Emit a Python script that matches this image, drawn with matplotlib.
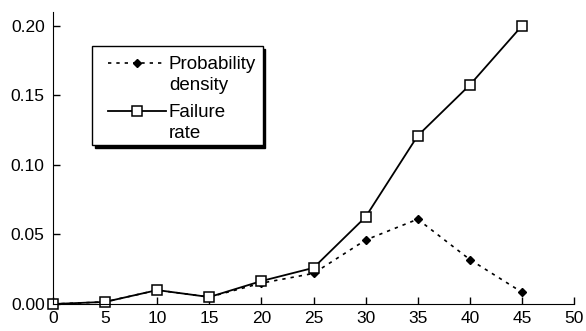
import matplotlib.pyplot as plt
import matplotlib.transforms as mtransforms
from matplotlib.legend_handler import HandlerLine2D

plt.rcParams["font.family"] = ["Liberation Sans", "DejaVu Sans"]

ages = [0, 5, 10, 15, 20, 25, 30, 35, 40, 45]
prob_density = [0.0, 0.0015, 0.010, 0.005, 0.015, 0.022, 0.046, 0.061, 0.032, 0.0085]
failure_rate = [0.0, 0.0015, 0.010, 0.005, 0.0165, 0.026, 0.0626, 0.121, 0.1575, 0.200]
x_ticks = [0, 5, 10, 15, 20, 25, 30, 35, 40, 45, 50]
y_ticks = [0.00, 0.05, 0.10, 0.15, 0.20]


class FirstLineHandler(HandlerLine2D):
    """Put the legend handle next to the first line of a two-line label."""

    def create_artists(self, legend, orig_handle, xdescent, ydescent,
                       width, height, fontsize, trans):
        shift = 0.95 * fontsize
        return super().create_artists(legend, orig_handle, xdescent, ydescent - shift,
                                      width, height, fontsize, trans)


fig = plt.figure(figsize=(5.86, 3.31), dpi=100)
ax = fig.add_axes([53 / 586, 27 / 331, 521 / 586, 292 / 331])

pd_line, = ax.plot(ages, prob_density, linestyle=(0, (2, 3)), color="black", linewidth=1.2,
                   marker="D", markersize=3.8, markerfacecolor="black", clip_on=False,
                   label="Probability\ndensity")
fr_line, = ax.plot(ages, failure_rate, linestyle="-", color="black", linewidth=1.3,
                   marker="s", markersize=7.5, markerfacecolor="white", markeredgecolor="black",
                   markeredgewidth=1.1, clip_on=False, label="Failure\nrate")

ax.set_xlim(0, 50)
ax.set_ylim(0, 0.21)
ax.set_xticks(x_ticks)
ax.set_yticks(y_ticks)
ax.set_yticklabels([f"{v:.2f}" for v in y_ticks])
ax.spines["top"].set_visible(False)
ax.spines["right"].set_visible(False)
ax.tick_params(direction="in", length=5, labelsize=12.5, width=1)
ax.tick_params(axis="x", pad=5)
ax.tick_params(axis="y", pad=6)

handler = FirstLineHandler(xpad=0.5)
leg = ax.legend(loc="upper left", bbox_to_anchor=(39 / 521, 1 - 34 / 292),
                frameon=True, fancybox=False, shadow={"color": "black", "alpha": 1},
                edgecolor="black", fontsize=13.5, handlelength=3.6, borderpad=0.35,
                labelspacing=0.55, handletextpad=0.15, borderaxespad=0,
                handler_map={pd_line: handler, fr_line: handler})
leg.get_frame().set_linewidth(1)
# nudge the label text a little lower inside the box
nudge = mtransforms.ScaledTranslation(0, -2.5 / 72, fig.dpi_scale_trans)
for t in leg.get_texts():
    t.set_linespacing(1.3)
    t.set_transform(t.get_transform() + nudge)

fig.savefig("out.png", dpi=100)
